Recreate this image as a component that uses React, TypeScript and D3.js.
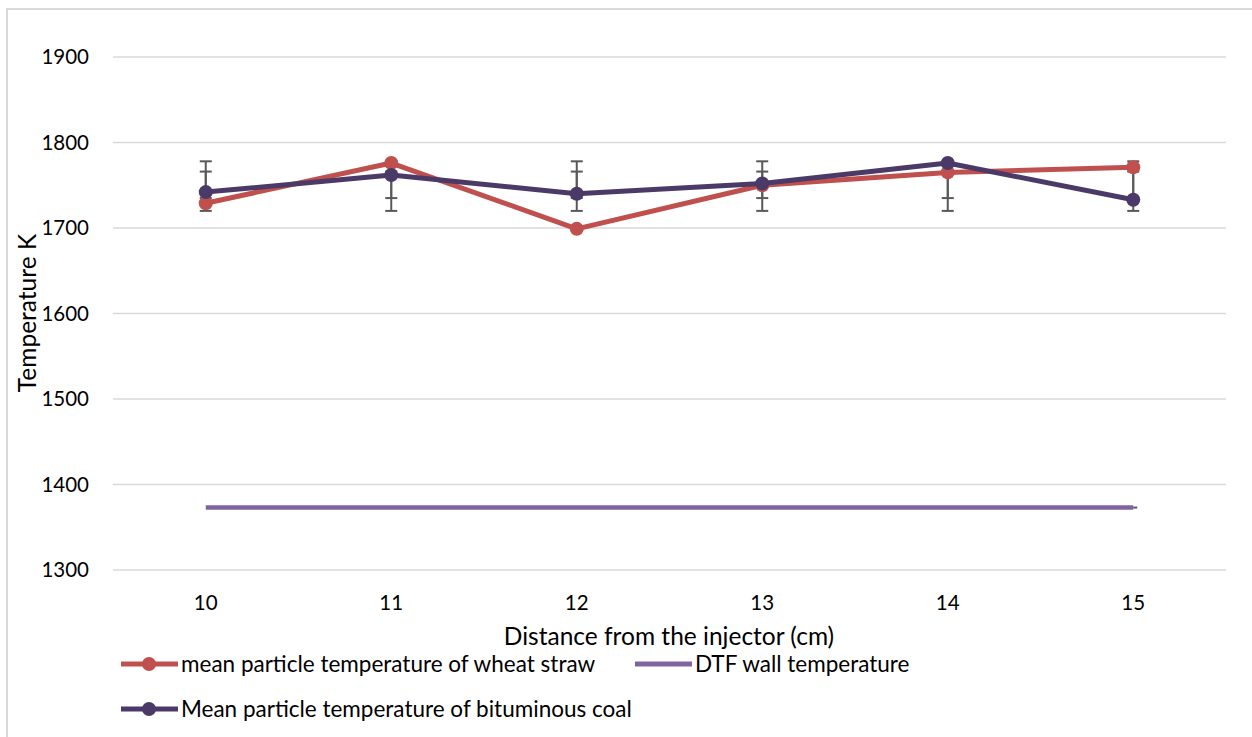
import React from "react";
import * as d3 from "d3";

// Distance from the injector (cm)
const distances = ["10", "11", "12", "13", "14", "15"];
// Mean particle temperature (K)
const wheatStraw = [1729, 1776, 1699, 1750, 1765, 1771];
const bituminousCoal = [1742, 1762, 1740, 1752, 1776, 1733];
// DTF wall temperature (K)
const wallTemp = [1373, 1373, 1373, 1373, 1373, 1373];
// Error bar extents (K)
const wheatErrLow = [1720, 1720, 1720, 1720, 1720, 1720];
const wheatErrHigh = [1778, 1778, 1778, 1778, 1778, 1778];
const coalErrLow = [1735, 1735, 1735, 1735, 1735, 1735];
const coalErrHigh = [1766, 1766, 1766, 1766, 1766, 1766];
const yTicks = [1300, 1400, 1500, 1600, 1700, 1800, 1900];

const W = 1252;
const H = 737;
const FONT = "Lato, 'Open Sans', sans-serif";
const RED = "#C0504D";
const COAL = "#4B3A68";
const WALL = "#8064A2";
const ERR = "#595959";

export default function App() {
  const plotLeft = 113;
  const plotRight = 1226;
  const x = d3.scaleBand<string>().domain(distances).range([plotLeft, plotRight]);
  const cx = (d: string) => (x(d) ?? 0) + x.bandwidth() / 2;
  const y = d3.scaleLinear().domain([1300, 1900]).range([570, 57]);

  const line = d3
    .line<number>()
    .x((_, i) => cx(distances[i]))
    .y((v) => y(v));

  const errBars = (low: number[], high: number[], key: string) =>
    distances.map((d, i) => {
      const px = cx(d);
      return (
        <g key={`${key}-${d}`} stroke={ERR} strokeWidth={2}>
          <line x1={px} x2={px} y1={y(high[i])} y2={y(low[i])} />
          <line x1={px - 6} x2={px + 6} y1={y(high[i])} y2={y(high[i])} />
          <line x1={px - 6} x2={px + 6} y1={y(low[i])} y2={y(low[i])} />
        </g>
      );
    });

  const legendItems = [
    { label: "mean particle temperature of wheat straw", color: RED, marker: true, x: 121, y: 664 },
    { label: "DTF wall temperature", color: WALL, marker: false, x: 635, y: 664 },
    { label: "Mean particle temperature of bituminous coal", color: COAL, marker: true, x: 121, y: 709 },
  ];

  return (
    <svg
      width={W}
      height={H}
      style={{ position: "absolute", left: 0, top: 0, background: "#fff" }}
      fontFamily={FONT}
    >
      <rect x={7} y={9} width={W + 10} height={H + 10} fill="#fff" stroke="#d9d9d9" strokeWidth={2} />

      {/* gridlines and y tick labels */}
      {yTicks.map((t) => (
        <g key={t}>
          <line x1={plotLeft} x2={plotRight} y1={y(t)} y2={y(t)} stroke="#d9d9d9" strokeWidth={1.5} />
          <text x={89} y={y(t)} dy="0.35em" textAnchor="end" fontSize={20.5} fill="#000">
            {t}
          </text>
        </g>
      ))}

      {/* x tick labels */}
      {distances.map((d) => (
        <text key={d} x={cx(d)} y={603} dy="0.35em" textAnchor="middle" fontSize={20.5} fill="#000">
          {d}
        </text>
      ))}

      {/* axis titles */}
      <text x={669} y={645} textAnchor="middle" fontSize={24.5} fill="#000">
        Distance from the injector (cm)
      </text>
      <text
        transform={`translate(36,${313}) rotate(-90)`}
        textAnchor="middle"
        fontSize={24.5}
        fill="#000"
      >
        Temperature K
      </text>

      {/* wall temperature */}
      <path d={line(wallTemp) ?? ""} fill="none" stroke={WALL} strokeWidth={4.5} />
      <line
        x1={cx(distances[5])}
        x2={cx(distances[5]) + 4}
        y1={y(wallTemp[5])}
        y2={y(wallTemp[5])}
        stroke={ERR}
        strokeWidth={2}
      />

      {/* error bars */}
      {errBars(wheatErrLow, wheatErrHigh, "w")}
      {errBars(coalErrLow, coalErrHigh, "c")}

      {/* wheat straw */}
      <path d={line(wheatStraw) ?? ""} fill="none" stroke={RED} strokeWidth={5} strokeLinejoin="round" />
      {wheatStraw.map((v, i) => (
        <circle key={`wm${i}`} cx={cx(distances[i])} cy={y(v)} r={7} fill={RED} />
      ))}

      {/* bituminous coal */}
      <path d={line(bituminousCoal) ?? ""} fill="none" stroke={COAL} strokeWidth={5} strokeLinejoin="round" />
      {bituminousCoal.map((v, i) => (
        <circle key={`cm${i}`} cx={cx(distances[i])} cy={y(v)} r={7} fill={COAL} />
      ))}

      {/* legend */}
      {legendItems.map((it) => (
        <g key={it.label}>
          <line x1={it.x} x2={it.x + 57} y1={it.y} y2={it.y} stroke={it.color} strokeWidth={5} />
          {it.marker && <circle cx={it.x + 28} cy={it.y} r={7} fill={it.color} />}
          <text x={it.x + 60} y={it.y} dy="0.35em" fontSize={22.5} fill="#000">
            {it.label}
          </text>
        </g>
      ))}
    </svg>
  );
}
